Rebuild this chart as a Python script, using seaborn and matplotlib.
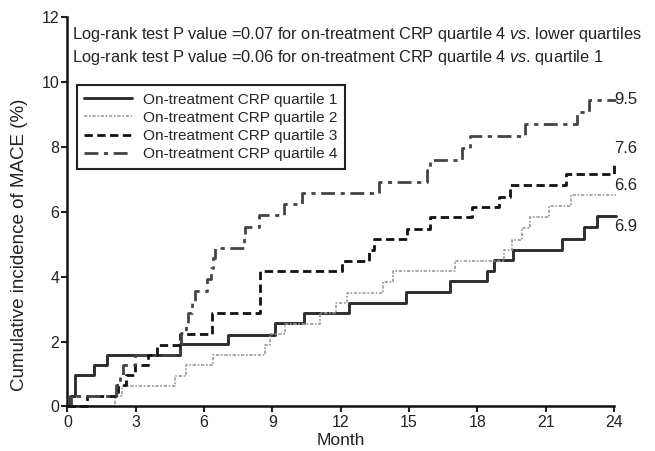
import matplotlib
matplotlib.use("Agg")
import matplotlib.pyplot as plt
import seaborn as sns

# step data (month, cumulative %)
group_names = ["On-treatment CRP quartile 1", "On-treatment CRP quartile 2",
               "On-treatment CRP quartile 3", "On-treatment CRP quartile 4"]

months_q1 = [0, 0.12, 0.34, 1.15, 1.74, 4.96, 7.04, 9.12, 10.37, 12.37, 14.87,
             16.8, 18.43, 18.72, 19.57, 21.72, 22.7, 23.26, 24.1]
mace_q1 = [0, 0.31, 0.97, 1.28, 1.6, 1.92, 2.2, 2.56, 2.87, 3.19, 3.52,
           3.85, 4.17, 4.5, 4.83, 5.17, 5.52, 5.88, 5.88]

months_q2 = [0, 2.1, 2.4, 4.72, 5.22, 6.4, 8.68, 8.9, 9.56, 11.07, 11.8, 12.27,
             13.85, 14.3, 17.03, 19.16, 19.5, 19.96, 20.33, 21.14, 22.09, 24.1]
mace_q2 = [0, 0.32, 0.63, 0.95, 1.27, 1.58, 1.9, 2.22, 2.54, 2.87, 3.19, 3.51,
           3.84, 4.17, 4.49, 4.82, 5.14, 5.5, 5.84, 6.17, 6.5, 6.5]

months_q3 = [0, 0.86, 2.2, 2.55, 2.97, 3.55, 3.92, 4.95, 6.34, 8.45, 12.05, 13.22,
             13.44, 14.91, 15.93, 17.77, 18.94, 19.45, 21.87, 23.99, 24.1]
mace_q3 = [0, 0.33, 0.66, 0.97, 1.28, 1.6, 1.9, 2.22, 2.87, 4.17, 4.48, 4.82,
           5.15, 5.48, 5.84, 6.15, 6.46, 6.82, 7.15, 7.5, 7.5]

months_q4 = [0, 0.17, 2.15, 2.3, 2.45, 2.95, 4.95, 5.0, 5.2, 5.3, 5.45, 5.6,
             6.12, 6.3, 6.4, 6.48, 7.73, 7.78, 8.39, 9.49, 10.29, 13.66, 15.79,
             15.93, 17.33, 17.69, 20.11, 22.38, 22.89, 24.1]
mace_q4 = [0, 0.33, 0.66, 0.97, 1.28, 1.6, 1.9, 2.25, 2.56, 2.87, 3.2, 3.55,
           3.92, 4.25, 4.56, 4.87, 5.2, 5.53, 5.89, 6.25, 6.58, 6.92, 7.28,
           7.6, 7.96, 8.33, 8.71, 9.07, 9.43, 9.43]

end_labels = ["6.9", "6.6", "7.6", "9.5"]
pvalue_lines = [
    "Log-rank test P value =0.07 for on-treatment CRP quartile 4 $\\mathit{vs}$. lower quartiles",
    "Log-rank test P value =0.06 for on-treatment CRP quartile 4 $\\mathit{vs}$. quartile 1",
]
x_ticks = [0, 3, 6, 9, 12, 15, 18, 21, 24]
y_ticks = [0, 2, 4, 6, 8, 10, 12]

sns.set_style("ticks")
plt.rcParams["font.family"] = ["Liberation Sans", "DejaVu Sans"]
plt.rcParams["mathtext.fontset"] = "custom"
plt.rcParams["mathtext.it"] = "Liberation Sans:italic"
plt.rcParams["mathtext.rm"] = "Liberation Sans"

line_styles = [
    dict(color="#2e2e2e", linewidth=2.1, linestyle="-"),
    dict(color="#9a9a9a", linewidth=1.2, linestyle=(0, (2, 1, 1, 1))),
    dict(color="#111111", linewidth=2.0, linestyle=(0, (3, 1.6))),
    dict(color="#444444", linewidth=2.0, linestyle=(0, (5, 2, 1.5, 2))),
]
label_y = [5.53, 6.82, 7.95, 9.46]

fig = plt.figure(figsize=(6.55, 4.51), dpi=100)
ax = fig.add_axes([0.103, 0.0987, 0.8345, 0.864])

series = [(months_q1, mace_q1), (months_q2, mace_q2),
          (months_q3, mace_q3), (months_q4, mace_q4)]
for name, (mo, mc), st in zip(group_names, series, line_styles):
    sns.lineplot(x=mo, y=mc, ax=ax, drawstyle="steps-post", estimator=None,
                 sort=False, label=name, clip_on=False, **st)

for txt, yy in zip(end_labels, label_y):
    ax.text(24.0, yy, txt, fontsize=12, ha="left", va="center", color="#222222")

ax.text(0.2, 11.45, pvalue_lines[0], fontsize=11.8, va="center", color="#222222")
ax.text(0.2, 10.75, pvalue_lines[1], fontsize=11.8, va="center", color="#222222")

ax.set_xlim(0, 24)
ax.set_ylim(0, 12)
ax.set_xticks(x_ticks)
ax.set_yticks(y_ticks)
sns.despine(ax=ax)
for s in ["left", "bottom"]:
    ax.spines[s].set_linewidth(1.8)
    ax.spines[s].set_color("#111111")
ax.tick_params(length=4, width=1.5, labelsize=11.5, pad=2, colors="#222222")
ax.set_xlabel("Month", fontsize=12.5, color="#222222", labelpad=2)
ax.set_ylabel("Cumulative incidence of MACE (%)", fontsize=13.5, color="#222222")
ax.yaxis.set_label_coords(-0.072, 0.415)

leg = ax.legend(loc="upper left", bbox_to_anchor=(0.017, 0.825), borderaxespad=0,
                frameon=True, fancybox=False, edgecolor="#222222", framealpha=1,
                fontsize=11.1, handlelength=3.1, labelspacing=0.27,
                borderpad=0.5, handletextpad=0.7)
leg.get_frame().set_linewidth(1.5)

fig.savefig("out.png", dpi=100)
